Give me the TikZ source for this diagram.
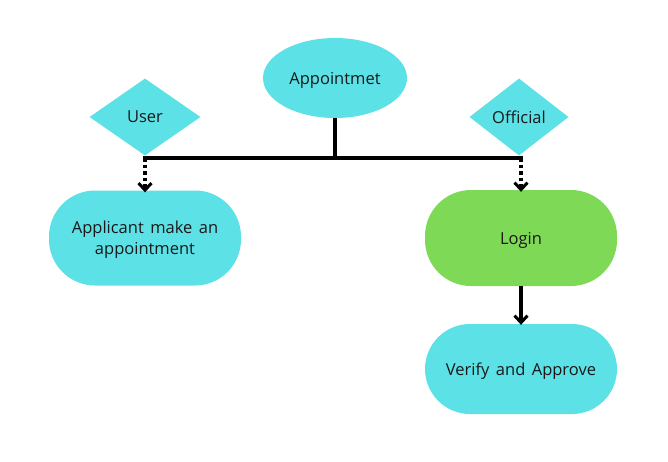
\documentclass[tikz,border=0pt]{standalone}
\usepackage{fontspec}
\setmainfont{Open Sans}[WordSpace=1.5]
\usetikzlibrary{shapes.geometric,arrows.meta}
\definecolor{cyanbox}{HTML}{5CE1E6}
\definecolor{greenbox}{HTML}{7ED957}
\begin{document}
\begin{tikzpicture}[x=1pt,y=-1pt,
  every node/.style={font=\fontsize{16.5}{21}\selectfont, text=black!90, inner sep=0pt, text depth=0pt},
  ovalbox/.style={ellipse, fill=cyanbox, minimum width=144pt, minimum height=80pt},
  diamondbox/.style={diamond, fill=cyanbox, minimum width=#1, minimum height=77pt, aspect=1.4},
  stadium/.style={rectangle, rounded corners=46pt, minimum width=192pt, minimum height=#1, align=center},
  conn/.style={line width=4pt},
  dotconn/.style={line width=4pt, dash pattern=on 3.5pt off 3pt, -{Straight Barb[length=7pt,width=13pt,line width=3pt]}},
  solidarrow/.style={line width=4pt, -{Straight Barb[length=7pt,width=13pt,line width=3pt]}}
]
\useasboundingbox (0,0) rectangle (668,461);
\node[ovalbox] (app) at (335,78) {Appointmet};
\node[diamondbox=111pt] (user) at (145,117) {User};
\node[diamondbox=99pt] (official) at (519,117) {Official};
\node[stadium=95pt, fill=cyanbox] (applicant) at (145,238) {Applicant make an\\appointment};
\node[stadium=96pt, fill=greenbox] (login) at (521,238) {Login};
\node[stadium=90pt, fill=cyanbox, rounded corners=45pt] (verify) at (521,369) {Verify and Approve};
\coordinate (jc) at (335,158);
\coordinate (jl) at (143,158);
\coordinate (jr) at (523,158);
\coordinate (jla) at (145,158);
\coordinate (jra) at (521,158);
\draw[conn] (app.south) -- (jc);
\draw[conn] (jl) -- (jr);
\draw[dotconn] (jla) -- ([yshift=-2pt]applicant.north);
\draw[dotconn] (jra) -- ([yshift=-2pt]login.north);
\draw[solidarrow] (login.south) -- ([yshift=-1pt]verify.north);
\end{tikzpicture}
\end{document}
